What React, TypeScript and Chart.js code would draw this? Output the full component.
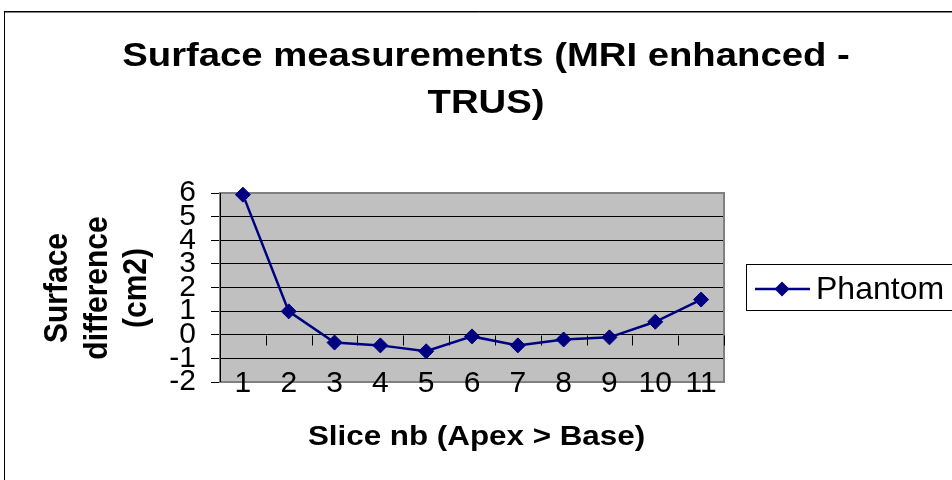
import { useEffect, useRef } from 'react';
import { Chart, registerables } from 'chart.js';

Chart.register(...registerables);

const TITLE_LINES = ['Surface measurements (MRI enhanced -', 'TRUS)'];
const X_TITLE = 'Slice nb (Apex > Base)';
const Y_TITLE_LINES = ['Surface', 'difference', '(cm2)'];
const SERIES_NAME = 'Phantom';
const CATEGORIES = ['1', '2', '3', '4', '5', '6', '7', '8', '9', '10', '11'];
const PHANTOM = [5.93, 0.99, -0.33, -0.45, -0.7, -0.07, -0.45, -0.2, -0.11, 0.55, 1.49];
const Y_MIN = -2;
const Y_MAX = 6;
const Y_STEP = 1;

const FONT = 'Arial, "Liberation Sans", sans-serif';
const NAVY = '#000080';

function stretchedText(ctx: CanvasRenderingContext2D, text: string, x: number, y: number, font: string, sx: number) {
  ctx.save();
  ctx.translate(x, y);
  ctx.scale(sx, 1);
  ctx.font = font;
  ctx.textAlign = 'center';
  ctx.textBaseline = 'alphabetic';
  ctx.fillStyle = '#000';
  ctx.fillText(text, 0, 0);
  ctx.restore();
}

function rotatedText(ctx: CanvasRenderingContext2D, text: string, x: number, y: number, font: string, sx: number) {
  ctx.save();
  ctx.translate(x, y);
  ctx.scale(sx, 1);
  ctx.rotate(-Math.PI / 2);
  ctx.font = font;
  ctx.textAlign = 'center';
  ctx.textBaseline = 'alphabetic';
  ctx.fillStyle = '#000';
  ctx.fillText(text, 0, 0);
  ctx.restore();
}

const decorPlugin = {
  id: 'decor',
  beforeDraw(chart: any) {
    const ctx: CanvasRenderingContext2D = chart.ctx;
    const a = chart.chartArea;
    ctx.save();
    ctx.fillStyle = '#fff';
    ctx.fillRect(0, 0, chart.width, chart.height);
    // outer chart border
    ctx.strokeStyle = '#000';
    ctx.lineWidth = 1;
    ctx.strokeRect(4.5, 11.5, 2000, 2000);
    ctx.strokeStyle = '#808080';
    ctx.beginPath();
    ctx.moveTo(5, 12.5);
    ctx.lineTo(chart.width, 12.5);
    ctx.stroke();
    // plot background
    ctx.fillStyle = '#C0C0C0';
    ctx.fillRect(a.left, a.top, a.right - a.left, a.bottom - a.top);
    ctx.restore();
  },
  beforeDatasetsDraw(chart: any) {
    const ctx: CanvasRenderingContext2D = chart.ctx;
    const a = chart.chartArea;
    const xs = chart.scales.x;
    const ys = chart.scales.y;
    ctx.save();
    // plot border
    ctx.strokeStyle = '#808080';
    ctx.lineWidth = 2;
    ctx.strokeRect(a.left, a.top, a.right - a.left, a.bottom - a.top);
    ctx.strokeStyle = '#000';
    ctx.lineWidth = 1;
    ctx.beginPath();
    ctx.moveTo(a.left + 0.5, a.top);
    ctx.lineTo(a.left + 0.5, a.bottom);
    ctx.stroke();
    // x axis tick marks at y = 0
    const y0 = Math.round(ys.getPixelForValue(0)) + 0.5;
    const half = (xs.getPixelForValue(1) - xs.getPixelForValue(0)) / 2;
    ctx.beginPath();
    for (let i = 0; i <= CATEGORIES.length; i++) {
      const x = Math.round(xs.getPixelForValue(Math.min(i, CATEGORIES.length - 1)) + (i === CATEGORIES.length ? half : -half)) + 0.5;
      ctx.moveTo(x, y0);
      ctx.lineTo(x, y0 + 10);
    }
    ctx.stroke();
    // x category labels
    ctx.font = `30px ${FONT}`;
    ctx.fillStyle = '#000';
    ctx.textAlign = 'center';
    ctx.textBaseline = 'alphabetic';
    CATEGORIES.forEach((c, i) => {
      ctx.fillText(c, xs.getPixelForValue(i), a.bottom + 10);
    });
    ctx.restore();
  },
  afterDraw(chart: any) {
    const ctx: CanvasRenderingContext2D = chart.ctx;
    // title
    stretchedText(ctx, TITLE_LINES[0], 486, 66, `bold 33px ${FONT}`, 1.16);
    stretchedText(ctx, TITLE_LINES[1], 486, 113, `bold 33px ${FONT}`, 1.16);
    // x title
    stretchedText(ctx, X_TITLE, 476.5, 445, `bold 28px ${FONT}`, 1.12);
    // y title
    const yc = 288;
    rotatedText(ctx, Y_TITLE_LINES[0], 66.5, yc, `bold 30px ${FONT}`, 1.1);
    rotatedText(ctx, Y_TITLE_LINES[1], 106.5, yc, `bold 30px ${FONT}`, 1.1);
    rotatedText(ctx, Y_TITLE_LINES[2], 146, yc, `bold 30px ${FONT}`, 1.1);
    // legend
    ctx.save();
    ctx.strokeStyle = '#000';
    ctx.lineWidth = 1;
    ctx.strokeRect(746.5, 264.5, 400, 46);
    const ly = 289;
    ctx.strokeStyle = NAVY;
    ctx.lineWidth = 2.5;
    ctx.beginPath();
    ctx.moveTo(755, ly);
    ctx.lineTo(810, ly);
    ctx.stroke();
    ctx.fillStyle = NAVY;
    ctx.beginPath();
    ctx.moveTo(782, ly - 7.5);
    ctx.lineTo(789.5, ly);
    ctx.lineTo(782, ly + 7.5);
    ctx.lineTo(774.5, ly);
    ctx.closePath();
    ctx.fill();
    ctx.fillStyle = '#000';
    ctx.font = `32px ${FONT}`;
    ctx.textAlign = 'left';
    ctx.textBaseline = 'alphabetic';
    ctx.fillText(SERIES_NAME, 816, 299);
    ctx.restore();
  },
};

export default function App() {
  const ref = useRef<HTMLCanvasElement | null>(null);
  useEffect(() => {
    if (!ref.current) return;
    const chart = new Chart(ref.current, {
      type: 'line',
      data: {
        labels: CATEGORIES,
        datasets: [
          {
            label: SERIES_NAME,
            data: PHANTOM,
            borderColor: NAVY,
            backgroundColor: NAVY,
            borderWidth: 2.5,
            pointStyle: 'rectRot',
            pointRadius: 7.5,
            pointBackgroundColor: NAVY,
            pointBorderColor: NAVY,
            pointBorderWidth: 1,
            tension: 0,
            clip: false as any,
          },
        ],
      },
      options: {
        animation: false,
        responsive: false,
        devicePixelRatio: 1,
        layout: { padding: { left: 0, top: 193, right: 228, bottom: 98 } },
        plugins: {
          legend: { display: false },
          title: { display: false },
          tooltip: { enabled: false },
        },
        scales: {
          x: {
            type: 'category',
            offset: true,
            display: false,
          },
          y: {
            min: Y_MIN,
            max: Y_MAX,
            afterFit: (s: any) => {
              s.width = 220;
            },
            ticks: {
              stepSize: Y_STEP,
              autoSkip: false,
              color: '#000',
              font: { family: FONT, size: 30 },
              padding: 15,
            },
            grid: { color: '#000', lineWidth: 1, drawTicks: true, tickLength: 9 },
            border: { display: false },
          },
        },
      },
      plugins: [decorPlugin],
    });
    return () => chart.destroy();
  }, []);
  return (
    <div style={{ position: 'fixed', left: 0, top: 0, width: 952, height: 480 }}>
      <canvas ref={ref} width={952} height={480} style={{ display: 'block' }} />
    </div>
  );
}
